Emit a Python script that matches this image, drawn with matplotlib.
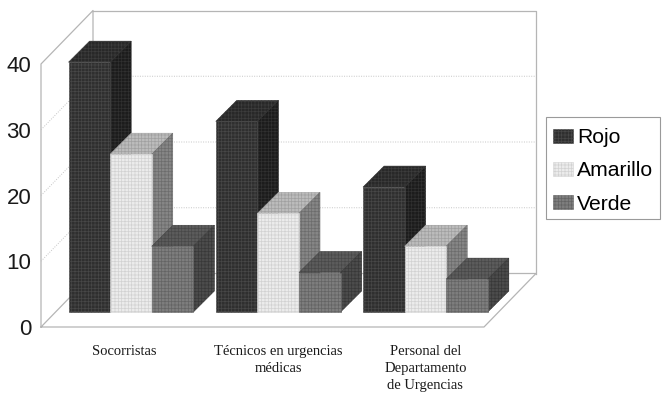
import matplotlib
matplotlib.use("Agg")
import matplotlib.pyplot as plt
from matplotlib.patches import Patch, Rectangle
from matplotlib.transforms import ScaledTranslation

groups = ["Socorristas", "Técnicos en urgencias\nmédicas", "Personal del\nDepartamento\nde Urgencias"]
rojo = [38, 29, 19]
amarillo = [24, 15, 10]
verde = [10, 6, 5]
yticks = [0, 10, 20, 30, 40]

W, H = 668, 394
# plot box in pixels (front plane of the 3D frame)
LEFT, RIGHT, BOTTOM, TOP = 41, 484, 327, 64
XMIN, XMAX = -0.611, 2.398
YMAX = 40

px_x = (XMAX - XMIN) / (RIGHT - LEFT)
px_y = YMAX / (BOTTOM - TOP)

bar_w = 41.6 * px_x
depth_x, depth_y = 21 * px_x, 21 * px_y      # bar depth
lift = 15 * px_y                             # bars sit back from the front edge
wall_x, wall_y = 52 * px_x, 53.5 * px_y      # frame depth

# series: values, label, (fill, halftone) for front, top, side
series = [
    (rojo, "Rojo", ("#2f2f2f", "#474747"), ("#282828", "#3c3c3c"), ("#1c1c1c", "#303030")),
    (amarillo, "Amarillo", ("#ececec", "#d2d2d2"), ("#bcbcbc", "#a0a0a0"), ("#868686", "#6c6c6c")),
    (verde, "Verde", ("#7e7e7e", "#646464"), ("#5c5c5c", "#484848"), ("#4c4c4c", "#383838")),
]

plt.rcParams["hatch.linewidth"] = 0.5

fig = plt.figure(figsize=(W / 100, H / 100), dpi=100)
ax = fig.add_axes([LEFT / W, 1 - BOTTOM / H, (RIGHT - LEFT) / W, (BOTTOM - TOP) / H])
ax.set_xlim(XMIN, XMAX)
ax.set_ylim(0, YMAX)
for s in ax.spines.values():
    s.set_visible(False)

# frame
frame = dict(color="#b5b5b5", lw=0.9, clip_on=False, zorder=1)
x0, x1 = XMIN, XMAX
# floor
ax.plot([x0, x1, x1 + wall_x, x0 + wall_x, x0], [0, 0, wall_y, wall_y, 0], **frame)
# walls
ax.plot([x0, x0, x0 + wall_x, x0 + wall_x], [0, YMAX, YMAX + wall_y, wall_y], **frame)
ax.plot([x0 + wall_x, x1 + wall_x, x1 + wall_x], [YMAX + wall_y, YMAX + wall_y, wall_y], **frame)

# gridlines on the two walls
for t in yticks[1:-1]:
    ax.plot([x0, x0 + wall_x, x1 + wall_x], [t, t + wall_y, t + wall_y],
            color="#c4c4c4", lw=0.7, ls=(0, (1, 1.5)), clip_on=False, zorder=1)

# bars, left to right so nearer faces cover the sides of the previous one
z = 2
for g in range(len(groups)):
    for k, (values, label, front, top, side) in enumerate(series):
        v = values[g]
        left = g + (k - 1.5) * bar_w
        right = left + bar_w
        ax.fill([left, right, right + depth_x, left + depth_x],
                [lift + v, lift + v, lift + v + depth_y, lift + v + depth_y],
                fc=top[0], ec=top[1], hatch="+++++", lw=0.4, clip_on=False, zorder=z)
        ax.fill([right, right + depth_x, right + depth_x, right],
                [lift, lift + depth_y, lift + v + depth_y, lift + v],
                fc=side[0], ec=side[1], hatch="+++++", lw=0.4, clip_on=False, zorder=z)
        ax.bar(left, v, width=bar_w, bottom=lift, align="edge", color=front[0],
               edgecolor=front[1], hatch="+++++", lw=0.4, clip_on=False, zorder=z + 1)
        z += 2

ax.set_yticks(yticks)
ax.set_yticklabels([str(t) for t in yticks], fontsize=16, family="Liberation Sans", color="#1a1a1a")
ax.set_xticks(range(len(groups)))
ax.set_xticklabels(groups, fontsize=10.5, family="Liberation Serif", color="#1a1a1a", linespacing=1.42)
ax.tick_params(axis="y", length=0, pad=7)
ax.tick_params(axis="x", length=0, pad=13)

# first label sits a little left of its group in the original
lab = ax.get_xticklabels()[0]
lab.set_transform(lab.get_transform() + ScaledTranslation(-6.5 / 100, 0, fig.dpi_scale_trans))

# legend box drawn apart so its size can be set exactly
fig.add_artist(Rectangle((546 / W, 1 - 219 / H), 114 / W, 102 / H, transform=fig.transFigure,
                         fc="white", ec="#9a9a9a", lw=0.8))
handles = [Patch(fc=s[2][0], ec=s[2][1], hatch="+++++", lw=0.4, label=s[1]) for s in series]
leg = fig.legend(handles=handles, loc="upper left", bbox_to_anchor=(546 / W, 1 - 121 / H),
                 borderaxespad=0, frameon=False,
                 prop={"family": "Liberation Sans", "size": 15.2}, handlelength=0.95,
                 handleheight=0.65, handletextpad=0.19, labelspacing=0.68,
                 borderpad=0.33)

fig.savefig("out.png", dpi=100)
